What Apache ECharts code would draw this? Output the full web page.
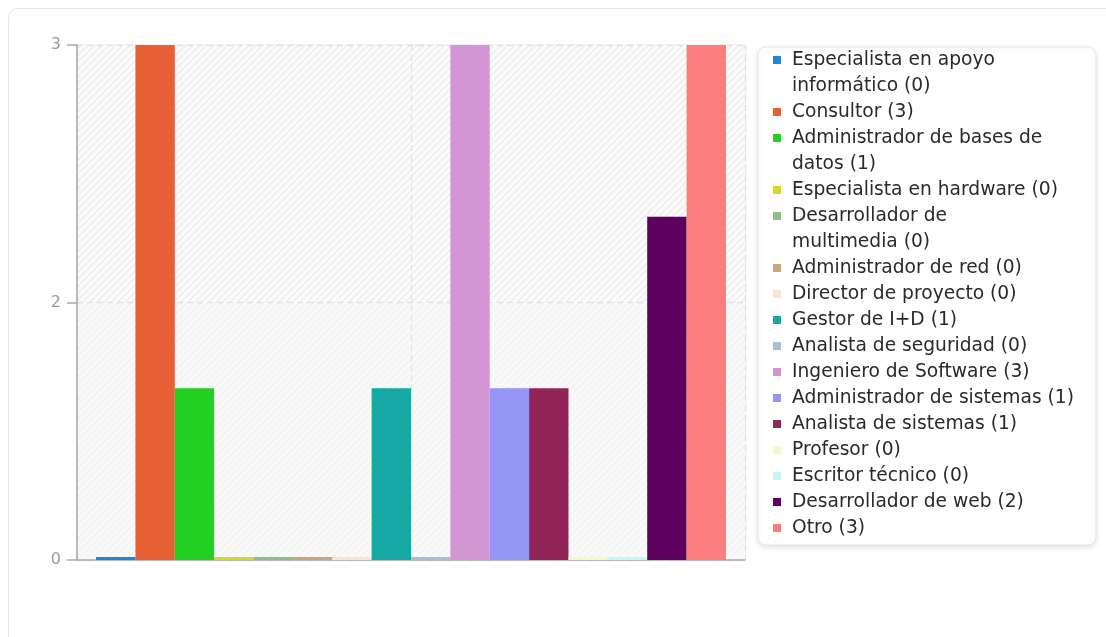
<!DOCTYPE html>
<html>
<head>
<meta charset="utf-8">
<script src="https://cdn.jsdelivr.net/npm/echarts@6/dist/echarts.min.js"></script>
<style>
  html, body { margin: 0; padding: 0; background: #fff; width: 1106px; height: 637px; overflow: hidden; }
  #panel { position: absolute; left: 8px; top: 8px; width: 1120px; height: 660px; border: 1px solid #e6e6e6; border-radius: 10px; box-sizing: border-box; }
  #chart { position: absolute; left: 0; top: 0; width: 1106px; height: 637px; }
</style>
</head>
<body>
<div id="panel"></div>
<div id="chart"></div>
<script>
const categories = [
  'Especialista en apoyo informático',
  'Consultor',
  'Administrador de bases de datos',
  'Especialista en hardware',
  'Desarrollador de multimedia',
  'Administrador de red',
  'Director de proyecto',
  'Gestor de I+D',
  'Analista de seguridad',
  'Ingeniero de Software',
  'Administrador de sistemas',
  'Analista de sistemas',
  'Profesor',
  'Escritor técnico',
  'Desarrollador de web',
  'Otro'
];
const values = [0, 3, 1, 0, 0, 0, 0, 1, 0, 3, 1, 1, 0, 0, 2, 3];
const colors = [
  '#2186d9', '#e86035', '#22d022', '#d8d822', '#8bc08b', '#c9a57c', '#f8e4d8', '#16a8a2',
  '#a6bedc', '#d396d5', '#9595f5', '#922558', '#f7f7c8', '#c6f6f6', '#5e005e', '#fb7d7d'
];
const yMin = 0, yMax = 3, yInterval = 1.5;

const LEGEND_FONT = '18.67px "DejaVu Sans"';
const LEGEND_MAX_W = 295;
const measureCtx = document.createElement('canvas').getContext('2d');
measureCtx.font = LEGEND_FONT;

// "Name (n)" with the last word kept together with the count; wrap before it if too wide
function legendLabel(name, value) {
  const full = name + ' (' + value + ')';
  if (measureCtx.measureText(full).width <= LEGEND_MAX_W) return full;
  const cut = name.lastIndexOf(' ');
  return name.slice(0, cut) + '\n' + name.slice(cut + 1) + ' (' + value + ')';
}

function hatch(bg, fg) {
  const s = 7;
  const c = document.createElement('canvas');
  c.width = s; c.height = s;
  const g = c.getContext('2d');
  g.fillStyle = bg; g.fillRect(0, 0, s, s);
  g.strokeStyle = fg; g.lineWidth = 1.2;
  g.beginPath();
  g.moveTo(-1, s + 1); g.lineTo(s + 1, -1);
  g.moveTo(-1, 1); g.lineTo(1, -1);
  g.moveTo(s - 1, s + 1); g.lineTo(s + 1, s - 1);
  g.stroke();
  return { image: c, repeat: 'repeat' };
}

const labels = {};
categories.forEach((n, i) => { labels[n] = legendLabel(n, values[i]); });

// square icon: centred for one-line items, aligned with the first line for wrapped items
const ICON_ONE = 'path://M0,0h8v8h-8z';
const ICON_TOP = 'path://M0,0h8v8h-8z M0,33.99L0.01,34L0,34z';

const chart = echarts.init(document.getElementById('chart'), null, { renderer: 'canvas' });
const series = categories.map((name, i) => ({
  name: name,
  type: 'bar',
  data: [values[i]],
  barGap: '0%',
  barCategoryGap: '5.7%',
  barMinHeight: 3,
  z: 3,
  itemStyle: { color: colors[i], borderWidth: 0 },
  emphasis: { disabled: true }
}));

chart.setOption({
  animation: false,
  textStyle: { fontFamily: 'DejaVu Sans' },
  grid: { left: 77, right: 361, top: 45, bottom: 77, show: true, borderColor: '#e4e4e4', borderWidth: 1, backgroundColor: 'transparent' },
  xAxis: [
    { type: 'category', data: [''], axisLine: { lineStyle: { color: '#aaaaaa', width: 1.5 } }, axisTick: { show: false }, axisLabel: { show: false }, splitLine: { show: false } },
    { type: 'value', min: 0, max: 2, interval: 1, position: 'bottom', axisLine: { show: false }, axisTick: { show: false }, axisLabel: { show: false },
      splitLine: { show: true, lineStyle: { color: '#e2e2e2', type: [6, 4], width: 1.3 } } }
  ],
  yAxis: {
    type: 'value', min: yMin, max: yMax, interval: yInterval,
    axisLine: { show: true, lineStyle: { color: '#aaaaaa', width: 1.5 } },
    axisTick: { show: true, length: 10, lineStyle: { color: '#aaaaaa', width: 1.5 } },
    axisLabel: { color: '#999999', fontSize: 16, margin: 16, formatter: v => String(Math.round(v)) },
    splitLine: { show: true, lineStyle: { color: '#e2e2e2', type: [6, 4], width: 1.3 } },
    splitArea: { show: true, areaStyle: { color: [hatch('#f9f9f9', '#f1f1f1'), hatch('#fbfbfb', '#eaeaea')] } }
  },
  legend: {
    orient: 'vertical',
    left: 758, top: 47,
    itemWidth: 8, itemHeight: 34, itemGap: 0,
    symbolKeepAspect: true,
    padding: [0, 22, 4, 15],
    backgroundColor: '#ffffff', borderColor: '#e6e6e6', borderWidth: 1, borderRadius: 8,
    shadowBlur: 6, shadowColor: 'rgba(0,0,0,0.12)', shadowOffsetY: 2,
    selectedMode: false,
    data: categories.map(n => ({ name: n, icon: labels[n].indexOf('\n') >= 0 ? ICON_TOP : ICON_ONE })),
    formatter: name => labels[name],
    textStyle: { fontFamily: 'DejaVu Sans', fontSize: 18.67, color: '#2a2a2a', lineHeight: 26, padding: [0, 0, 0, 6] }
  },
  series: series
});
</script>
</body>
</html>
